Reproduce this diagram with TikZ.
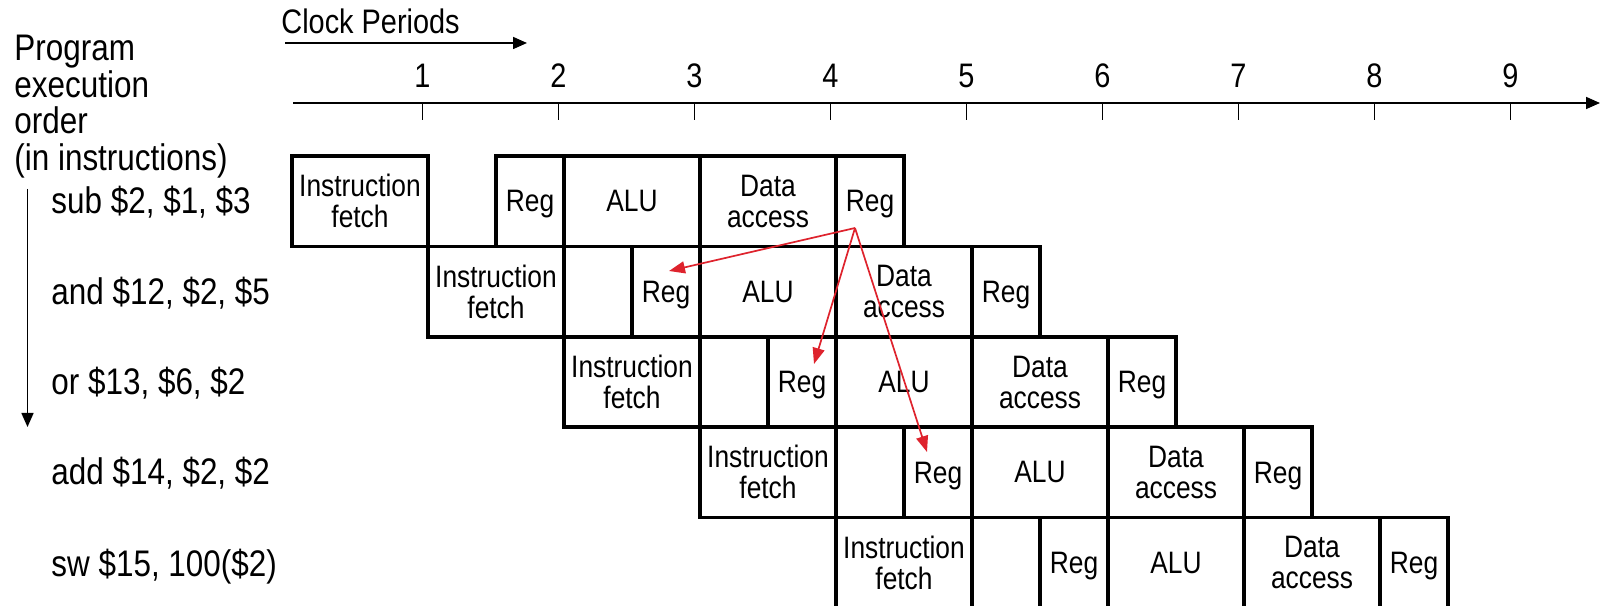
\documentclass[tikz,border=0pt]{standalone}
\usepackage{fontspec}
\setmainfont[FakeStretch=0.85]{Liberation Sans}
\usetikzlibrary{arrows.meta}
\definecolor{hazred}{RGB}{222,35,45}
\begin{document}
\begin{tikzpicture}[x=0.5pt,y=-0.5pt,
  stagebox/.style={draw, line width=1.75pt, minimum height=45.2pt, inner sep=0pt, align=center,
    font=\fontsize{15.5}{15.5}\selectfont},
  fullw/.style={minimum width=68pt},
  halfw/.style={minimum width=34pt},
  nodepth/.style={text depth=0pt},
  lbl/.style={font=\fontsize{18.5}{18.5}\selectfont, inner sep=0pt},
  ticklbl/.style={font=\fontsize{17}{17}\selectfont, inner sep=0pt, anchor=base},
  thin/.style={line width=0.8pt},
  blkarrow/.style={thin, -{Triangle[length=7pt,width=6pt]}},
  fwd/.style={hazred, line width=0.85pt, -{Triangle[length=8pt,width=6pt]}}]
\useasboundingbox (0,0) rectangle (1600,608);
\begin{scope}
\clip (0,0) rectangle (1600,605);
% clock periods
\node[lbl, font=\fontsize{17}{17}\selectfont, anchor=west] (clk) at (281,21) {Clock Periods};
\coordinate (ck0) at (285,43);
\coordinate (ck1) at (527,43);
\draw[blkarrow] (ck0) -- (ck1);
% axis
\coordinate (ax0) at (293,103);
\coordinate (ax1) at (1600,103);
\draw[blkarrow] (ax0) -- (ax1);
\foreach \k in {1,...,9}{
  \coordinate (tk\k) at ({422.5+136*(\k-1)},103);
  \coordinate (tb\k) at ({422.5+136*(\k-1)},120);
  \draw[thin] (tk\k) -- (tb\k);
  \node[ticklbl] (n\k) at ({422.5+136*(\k-1)},88) {\k};
}
\coordinate (ov) at (1340,103);
\draw[line width=1.3pt] (tk7) -- (ov);
% left labels
\node[lbl, anchor=base west] (l1) at (14,61) {Program};
\node[lbl, anchor=base west] (l2) at (14,97.5) {execution};
\node[lbl, anchor=base west] (l3) at (14,134) {order};
\node[lbl, anchor=base west] (l4) at (14,170.5) {(in instructions)};
\coordinate (va0) at (27.5,189);
\coordinate (va1) at (27.5,427);
\draw[blkarrow] (va0) -- (va1);
% instruction names
\node[lbl, anchor=base west] (i0) at (51,214) {sub \$2, \$1, \$3};
\node[lbl, anchor=base west] (i1) at (51,305) {and \$12, \$2, \$5};
\node[lbl, anchor=base west] (i2) at (51,395) {or \$13, \$6, \$2};
\node[lbl, anchor=base west] (i3) at (51,485) {add \$14, \$2, \$2};
\node[lbl, anchor=base west] (i4) at (51,576) {sw \$15, 100(\$2)};
% pipeline boxes
\foreach \i in {0,...,4}{
  \pgfmathsetmacro\cy{156+90.4*\i+45.2}
  \node[stagebox,fullw] (if\i) at ({292+136*(\i+0.5)},\cy) {Instruction\\fetch};
  \node[stagebox,halfw,nodepth] (ra\i) at ({292+136*(\i+1.75)},\cy) {Reg};
  \node[stagebox,fullw] (alu\i) at ({292+136*(\i+2.5)},\cy) {ALU};
  \node[stagebox,fullw] (da\i) at ({292+136*(\i+3.5)},\cy) {Data\\access};
  \node[stagebox,halfw,nodepth] (rb\i) at ({292+136*(\i+4.25)},\cy) {Reg};
}
\end{scope}
% forwarding arrows
\coordinate (src) at (855,228);
\coordinate (t1) at (669,271);
\coordinate (t2) at (814,364);
\coordinate (t3) at (927,452);
\draw[fwd] (src) -- (t1);
\draw[fwd] (src) -- (t2);
\draw[fwd] (src) -- (t3);
\end{tikzpicture}
\end{document}
